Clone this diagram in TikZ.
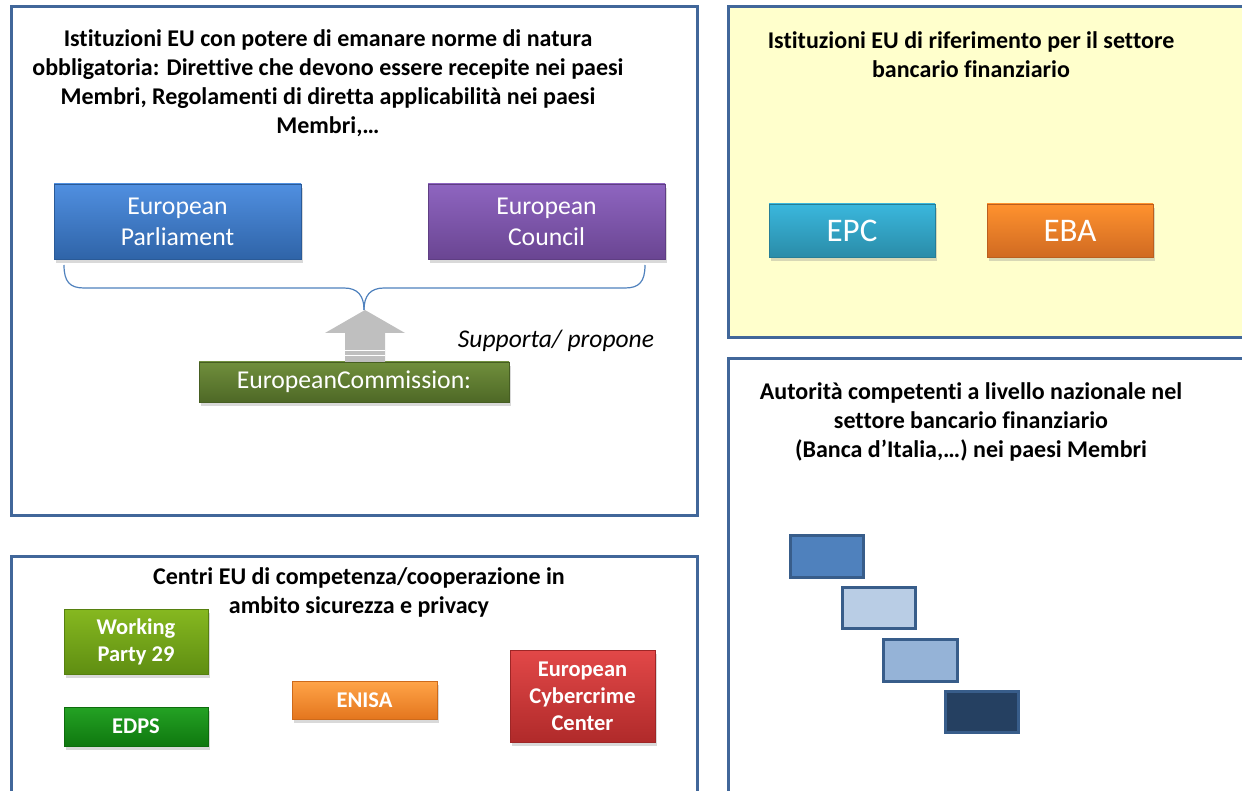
\documentclass[tikz,border=0pt]{standalone}
\usepackage{fontspec}
\setmainfont{Carlito}[Ligatures={NoCommon,NoRare,NoContextual}, Contextuals=NoAlternate]
\usetikzlibrary{shadows}
\definecolor{frame}{HTML}{41679A}
\definecolor{panelyellow}{HTML}{FFFFCC}
\definecolor{bracecol}{HTML}{4F81BD}
\definecolor{arrowgray}{HTML}{BFBFBF}
\definecolor{rectline}{HTML}{385D8A}
\definecolor{epT}{RGB}{80,143,224}\definecolor{epB}{RGB}{47,100,168}
\definecolor{ecT}{RGB}{142,101,192}\definecolor{ecB}{RGB}{106,69,146}
\definecolor{comT}{RGB}{112,143,60}\definecolor{comB}{RGB}{78,104,38}
\definecolor{epcT}{RGB}{58,183,221}\definecolor{epcB}{RGB}{42,140,168}
\definecolor{ebaT}{RGB}{255,146,46}\definecolor{ebaB}{RGB}{208,106,34}
\definecolor{wpT}{RGB}{134,184,32}\definecolor{wpB}{RGB}{95,142,18}
\definecolor{edT}{RGB}{36,162,36}\definecolor{edB}{RGB}{15,120,15}
\definecolor{enT}{RGB}{255,164,72}\definecolor{enB}{RGB}{228,118,30}
\definecolor{ccT}{RGB}{226,72,72}\definecolor{ccB}{RGB}{176,42,42}
\definecolor{nA}{RGB}{79,129,189}
\definecolor{nB}{RGB}{185,205,229}
\definecolor{nC}{RGB}{149,179,215}
\definecolor{nD}{RGB}{37,64,97}
\tikzset{
  panel/.style={draw=frame, line width=3pt},
  ptitle/.style={align=center, font=\fontsize{24}{29}\selectfont\bfseries, inner sep=0pt},
  box/.style 2 args={draw=#2!90!black, line width=0.4pt, text=white, align=center, inner sep=0pt,
    top color=#1, bottom color=#2,
    drop shadow={shadow xshift=2pt, shadow yshift=-4pt, opacity=0.3}},
  bigtxt/.style={font=\fontsize{25.7}{31}\selectfont},
  smalltxt/.style={font=\fontsize{22.5}{27}\selectfont\bfseries},
  natrect/.style={draw=rectline, line width=3pt, fill=#1},
}
\begin{document}
\begin{tikzpicture}[x=1pt,y=-1pt]
\useasboundingbox (0,0) rectangle (1242,791);
\clip (0,0) rectangle (1242,791);

% ---------- panels ----------
\draw[panel] (11,7) rectangle (697,515);
\draw[panel, fill=panelyellow] (728,7) rectangle (1260,338);
\draw[panel] (728,359) rectangle (1260,810);
\draw[panel] (11,556) rectangle (697,810);

% ---------- top-left panel ----------
\node[ptitle] (t1) at (328,83.5) {Istituzioni EU con potere di emanare norme di natura\\
obbligatoria: Direttive che devono essere recepite nei paesi\\
Membri, Regolamenti di diretta applicabilità nei paesi\\
Membri,…};

\node[box={epT}{epB}, minimum width=247pt, minimum height=75pt, bigtxt] (ep) at (177.5,221.5) {European\\Parliament};
\node[box={ecT}{ecB}, minimum width=237pt, minimum height=75pt, bigtxt] (ec) at (546.5,221.5) {European\\Council};

\coordinate (bl) at (64,265);
\coordinate (br) at (645,265);
\coordinate (bm) at (364,310);
\draw[bracecol, line width=1.2pt]
  (bl) .. controls (64,282) and (70,288) .. (84,288) -- (344,288)
  .. controls (358,288) and (364,296) .. (bm);
\draw[bracecol, line width=1.2pt]
  (br) .. controls (645,282) and (639,288) .. (625,288) -- (384,288)
  .. controls (370,288) and (364,296) .. (bm);

\node[box={comT}{comB}, minimum width=310pt, minimum height=40pt, bigtxt] (com) at (354,382) {EuropeanCommission:};

\fill[arrowgray] (345,362) -- (345,333) -- (325,333) -- (365,310) -- (405,333) -- (385,333) -- (385,362) -- cycle;
\draw[white, line width=1pt] (345,351) -- (385,351);
\draw[white, line width=1pt] (345,356) -- (385,356);

\node[font=\fontsize{25.5}{30}\selectfont\itshape, inner sep=0pt] (sp) at (556,341) {Supporta/ propone};

% ---------- top-right panel ----------
\node[ptitle] (t2) at (971,54.5) {Istituzioni EU di riferimento per il settore\\bancario finanziario};
\node[box={epcT}{epcB}, minimum width=166pt, minimum height=53pt, font=\fontsize{33}{38}\selectfont] (epc) at (852,230.5) {EPC};
\node[box={ebaT}{ebaB}, minimum width=166pt, minimum height=53pt, font=\fontsize{33}{38}\selectfont] (eba) at (1070,230.5) {EBA};

% ---------- bottom-right panel ----------
\node[ptitle] (t3) at (971,422) {Autorità competenti a livello nazionale nel\\settore bancario finanziario\\(Banca d’Italia,…) nei paesi Membri};
\draw[natrect=nA] (790,535) rectangle (863,577);
\draw[natrect=nB] (842,587) rectangle (915,628);
\draw[natrect=nC] (883,639) rectangle (957,681);
\draw[natrect=nD] (945,691) rectangle (1018,732);

% ---------- bottom-left panel ----------
\node[ptitle] (t4) at (359,592.5) {Centri EU di competenza/cooperazione in\\ambito sicurezza e privacy};
\node[box={wpT}{wpB}, minimum width=144pt, minimum height=65pt, smalltxt] (wp) at (136,641.5) {Working\\Party 29};
\node[box={edT}{edB}, minimum width=144pt, minimum height=39pt, smalltxt] (edps) at (136,726.5) {EDPS};
\node[box={enT}{enB}, minimum width=145pt, minimum height=38pt, smalltxt] (enisa) at (364.5,700) {ENISA};
\node[box={ccT}{ccB}, minimum width=145pt, minimum height=92pt, smalltxt] (ecc) at (582.5,696) {European\\Cybercrime\\Center};
\end{tikzpicture}
\end{document}
